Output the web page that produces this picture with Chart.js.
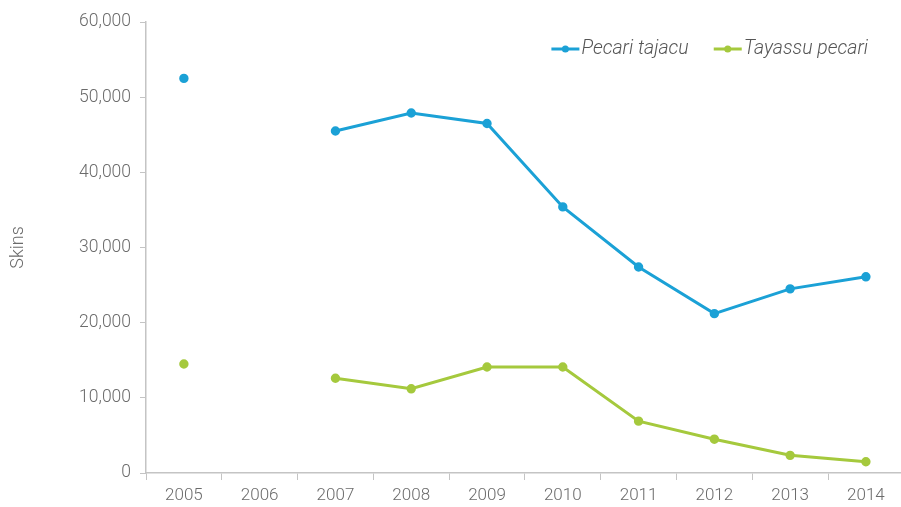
<!DOCTYPE html>
<html><head><meta charset="utf-8">
<script src="https://cdn.jsdelivr.net/npm/chart.js@4"></script>
<style>
html,body{margin:0;padding:0;overflow:hidden;background:#fff;}
#wrap{width:910px;height:507px;position:relative;}
</style></head>
<body><div id="wrap"><canvas id="c"></canvas></div>
<script>
const years = ['2005','2006','2007','2008','2009','2010','2011','2012','2013','2014'];
const pecariTajacu = [52500, null, 45500, 47900, 46500, 35400, 27400, 21200, 24500, 26100];
const tayassuPecari = [14500, null, 12600, 11200, 14100, 14100, 6900, 4500, 2350, 1500];
const seriesNames = ['Pecari tajacu', 'Tayassu pecari'];
const seriesColors = ['#1ba1d6', '#a5c93d'];
const yTicks = [0, 10000, 20000, 30000, 40000, 50000, 60000];

const FONT = 'Roboto, "Liberation Sans", sans-serif';
const TXT = '#6b6b6b';
const AX = '#c4c4c4';

const legendPlugin = {
  id: 'customLegend',
  afterDraw(chart) {
    const ctx = chart.ctx;
    const ca = chart.chartArea;
    ctx.save();
    ctx.font = 'italic 300 19.5px ' + FONT;
    ctx.textBaseline = 'middle';
    const sym = 28, gapT = 2, gapI = 25;
    const items = chart.data.datasets.map(d => ({label: d.label, color: d.borderColor, w: ctx.measureText(d.label).width}));
    let total = items.reduce((s, it) => s + sym + gapT + it.w, 0) + gapI * (items.length - 1);
    let x = 868 - total;
    const y = ca.top + 27;
    items.forEach(it => {
      ctx.strokeStyle = it.color; ctx.lineWidth = 3;
      ctx.beginPath(); ctx.moveTo(x, y); ctx.lineTo(x + sym, y); ctx.stroke();
      ctx.fillStyle = it.color;
      ctx.beginPath(); ctx.arc(x + sym / 2, y, 3.5, 0, Math.PI * 2); ctx.fill();
      ctx.fillStyle = '#555';
      ctx.textAlign = 'left';
      ctx.fillText(it.label, x + sym + gapT, y);
      x += sym + gapT + it.w + gapI;
    });
    ctx.restore();
  }
};

new Chart(document.getElementById('c'), {
  type: 'line',
  data: {
    labels: years,
    datasets: [
      {label: seriesNames[0], data: pecariTajacu, borderColor: seriesColors[0], backgroundColor: seriesColors[0], borderWidth: 3, pointRadius: 3.2, pointHoverRadius: 3.2, tension: 0, spanGaps: false},
      {label: seriesNames[1], data: tayassuPecari, borderColor: seriesColors[1], backgroundColor: seriesColors[1], borderWidth: 3, pointRadius: 3.2, pointHoverRadius: 3.2, tension: 0, spanGaps: false}
    ]
  },
  options: {
    responsive: true,
    maintainAspectRatio: false,
    animation: false,
    layout: {padding: {top: 22, right: 0, bottom: 0, left: 0}},
    plugins: {legend: {display: false}, tooltip: {enabled: false}},
    scales: {
      x: {
        offset: true,
        grid: {display: true, drawOnChartArea: false, drawTicks: true, tickLength: 7, color: AX, offset: true},
        border: {display: true, color: AX, width: 1.5},
        ticks: {color: TXT, font: {family: FONT, size: 17, weight: '300'}, padding: 6, maxRotation: 0, autoSkip: false},
        afterFit(s) { s.height = 34; }
      },
      y: {
        min: 0, max: 60000,
        afterBuildTicks(s) { s.ticks = yTicks.map(v => ({value: v})); },
        grid: {display: true, drawOnChartArea: false, drawTicks: true, tickLength: 6, color: AX},
        border: {display: true, color: AX, width: 1.5},
        ticks: {color: TXT, font: {family: FONT, size: 17.5, weight: '300'}, padding: 9,
          callback: v => v.toLocaleString('en-US')},
        title: {display: true, text: 'Skins', color: TXT, font: {family: FONT, size: 18, weight: '300'}, padding: {top: 8, bottom: 0}},
        afterFit(s) { s.width = 146; }
      }
    }
  },
  plugins: [legendPlugin]
});
</script></body></html>
